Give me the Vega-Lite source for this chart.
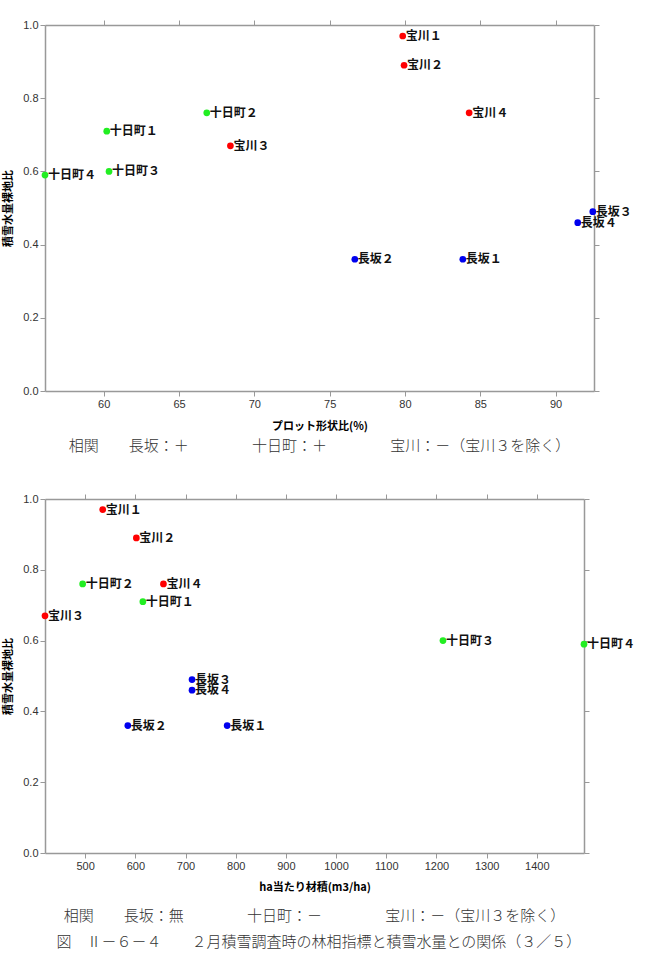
{
  "$schema": "https://vega.github.io/schema/vega-lite/v6.json",
  "padding": {"left": 2, "top": 19, "right": 5, "bottom": 5},
  "background": "white",
  "datasets": {
    "shape": [
      {"site": "宝川", "label": "宝川１", "x": 79.85, "y": 0.97},
      {"site": "宝川", "label": "宝川２", "x": 79.94, "y": 0.89},
      {"site": "宝川", "label": "宝川３", "x": 68.41, "y": 0.67},
      {"site": "宝川", "label": "宝川４", "x": 84.26, "y": 0.76},
      {"site": "十日町", "label": "十日町１", "x": 60.2, "y": 0.71},
      {"site": "十日町", "label": "十日町２", "x": 66.84, "y": 0.76},
      {"site": "十日町", "label": "十日町３", "x": 60.35, "y": 0.6},
      {"site": "十日町", "label": "十日町４", "x": 56.1, "y": 0.59},
      {"site": "長坂", "label": "長坂１", "x": 83.84, "y": 0.36},
      {"site": "長坂", "label": "長坂２", "x": 76.67, "y": 0.36},
      {"site": "長坂", "label": "長坂３", "x": 92.47, "y": 0.49},
      {"site": "長坂", "label": "長坂４", "x": 91.47, "y": 0.46}
    ],
    "volume": [
      {"site": "宝川", "label": "宝川１", "x": 535, "y": 0.97},
      {"site": "宝川", "label": "宝川２", "x": 602, "y": 0.89},
      {"site": "宝川", "label": "宝川３", "x": 420, "y": 0.67},
      {"site": "宝川", "label": "宝川４", "x": 656, "y": 0.76},
      {"site": "十日町", "label": "十日町１", "x": 615, "y": 0.71},
      {"site": "十日町", "label": "十日町２", "x": 495, "y": 0.76},
      {"site": "十日町", "label": "十日町３", "x": 1213, "y": 0.6},
      {"site": "十日町", "label": "十日町４", "x": 1494, "y": 0.59},
      {"site": "長坂", "label": "長坂１", "x": 783, "y": 0.36},
      {"site": "長坂", "label": "長坂２", "x": 585, "y": 0.36},
      {"site": "長坂", "label": "長坂３", "x": 713, "y": 0.49},
      {"site": "長坂", "label": "長坂４", "x": 713, "y": 0.46}
    ]
  },
  "title": {
    "text": "図　Ⅱ－６－４　　２月積雪調査時の林相指標と積雪水量との関係（３／５）",
    "orient": "bottom",
    "anchor": "middle",
    "font": "Noto Sans CJK JP",
    "fontSize": 15,
    "fontWeight": 300,
    "color": "#333333",
    "offset": 11
  },
  "spacing": 39,
  "config": {
    "view": {"stroke": null},
    "axis": {
      "domainColor": "#999999",
      "domainWidth": 1.5,
      "tickColor": "#999999",
      "tickSize": 5,
      "tickWidth": 1,
      "grid": false,
      "labelFont": "Liberation Sans",
      "labelFontSize": 11,
      "labelColor": "#333333",
      "labelPadding": 2,
      "titleFont": "Noto Sans CJK JP",
      "titleFontSize": 11,
      "titleFontWeight": "bold",
      "titleColor": "#000000"
    }
  },
  "vconcat": [
    {
      "width": 549,
      "height": 366,
      "data": {"name": "shape"},
      "title": {
        "text": "相関　　長坂：＋　　　　 十日町：＋　　　　 宝川：－（宝川３を除く）",
        "orient": "bottom",
        "anchor": "middle",
        "font": "Noto Sans CJK JP",
        "fontSize": 15,
        "fontWeight": 300,
        "color": "#333333",
        "offset": 8
      },
      "resolve": {"axis": {"x": "independent", "y": "independent"}},
      "layer": [
        {
          "mark": {"type": "circle", "size": 45, "opacity": 1},
          "encoding": {
            "x": {"field": "x", "type": "quantitative", "scale": {"domain": [56.1, 92.55], "nice": false, "zero": false},
                  "axis": {"title": "プロット形状比(%)", "values": [60, 65, 70, 75, 80, 85, 90], "titlePadding": 11}},
            "y": {"field": "y", "type": "quantitative", "scale": {"domain": [0, 1], "nice": false},
                  "axis": {"title": "積雪水量裸地比", "values": [0, 0.2, 0.4, 0.6, 0.8, 1.0], "format": ".1f", "titlePadding": 9}},
            "color": {"field": "site", "type": "nominal", "legend": null,
                      "scale": {"domain": ["宝川", "十日町", "長坂"], "range": ["#ff0000", "#22ee22", "#0000ee"]}}
          }
        },
        {
          "mark": {"type": "text", "align": "left", "baseline": "middle", "dx": 3, "font": "Noto Sans CJK JP", "fontSize": 12, "fontWeight": "bold", "color": "#111111"},
          "encoding": {
            "x": {"field": "x", "type": "quantitative", "axis": {"orient": "top", "labels": false, "title": null, "values": [60, 65, 70, 75, 80, 85, 90]}},
            "y": {"field": "y", "type": "quantitative", "axis": {"orient": "right", "labels": false, "title": null, "values": [0, 0.2, 0.4, 0.6, 0.8, 1.0]}},
            "text": {"field": "label"}
          }
        }
      ]
    },
    {
      "width": 539,
      "height": 354,
      "data": {"name": "volume"},
      "title": {
        "text": "相関　　長坂：無　　　　 十日町：－　　　　 宝川：－（宝川３を除く）",
        "orient": "bottom",
        "anchor": "middle",
        "font": "Noto Sans CJK JP",
        "fontSize": 15,
        "fontWeight": 300,
        "color": "#333333",
        "offset": 17
      },
      "resolve": {"axis": {"x": "independent", "y": "independent"}},
      "layer": [
        {
          "mark": {"type": "circle", "size": 45, "opacity": 1},
          "encoding": {
            "x": {"field": "x", "type": "quantitative", "scale": {"domain": [420, 1494], "nice": false, "zero": false},
                  "axis": {"title": "ha当たり材積(m3/ha)", "values": [500, 600, 700, 800, 900, 1000, 1100, 1200, 1300, 1400], "format": "d", "titlePadding": 10}},
            "y": {"field": "y", "type": "quantitative", "scale": {"domain": [0, 1], "nice": false},
                  "axis": {"title": "積雪水量裸地比", "values": [0, 0.2, 0.4, 0.6, 0.8, 1.0], "format": ".1f", "titlePadding": 9}},
            "color": {"field": "site", "type": "nominal", "legend": null,
                      "scale": {"domain": ["宝川", "十日町", "長坂"], "range": ["#ff0000", "#22ee22", "#0000ee"]}}
          }
        },
        {
          "mark": {"type": "text", "align": "left", "baseline": "middle", "dx": 3, "font": "Noto Sans CJK JP", "fontSize": 12, "fontWeight": "bold", "color": "#111111"},
          "encoding": {
            "x": {"field": "x", "type": "quantitative", "axis": {"orient": "top", "labels": false, "title": null, "values": [500, 600, 700, 800, 900, 1000, 1100, 1200, 1300, 1400]}},
            "y": {"field": "y", "type": "quantitative", "axis": {"orient": "right", "labels": false, "title": null, "values": [0, 0.2, 0.4, 0.6, 0.8, 1.0]}},
            "text": {"field": "label"}
          }
        }
      ]
    }
  ]
}
